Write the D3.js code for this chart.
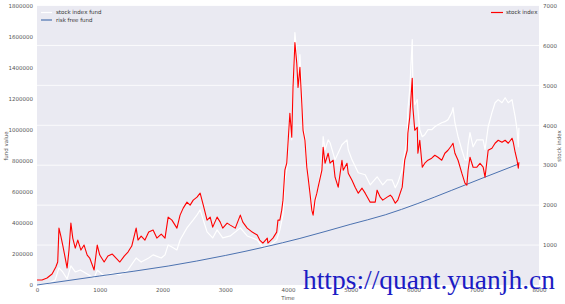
<!DOCTYPE html>
<html>
<head>
<meta charset="utf-8">
<script src="https://cdn.jsdelivr.net/npm/d3@7"></script>
<style>
  body { margin: 0; background: #fff; }
  svg { display: block; }
  text { font-family: "DejaVu Sans", sans-serif; }
</style>
</head>
<body>
<div id="chart"></div>
<script>
// stock index (right axis)
var indexTime = [0, 80, 160, 240, 300, 330, 350, 380, 410, 450, 480, 510, 540, 570, 610, 650, 700, 750, 800, 840,
  910, 960, 1000, 1070, 1130, 1200, 1260, 1320, 1390, 1450, 1510, 1580, 1610, 1660, 1720, 1780, 1850, 1910, 1980, 2040,
  2090, 2150, 2230, 2280, 2330, 2390, 2440, 2490, 2550, 2600, 2650, 2710, 2760, 2800, 2870, 2920, 2960, 3030, 3080, 3160,
  3240, 3280, 3350, 3430, 3510, 3550, 3600, 3670, 3680, 3760, 3820, 3840, 3870, 3900, 3920, 3950, 3980, 4030, 4060, 4080,
  4110, 4140, 4160, 4190, 4220, 4240, 4270, 4300, 4320, 4350, 4380, 4400, 4430, 4460, 4480, 4540, 4560, 4590, 4640, 4670,
  4720, 4750, 4800, 4860, 4880, 4940, 4960, 5020, 5070, 5120, 5180, 5230, 5310, 5390, 5420, 5470, 5510, 5580, 5630, 5660,
  5710, 5750, 5820, 5860, 5900, 5910, 5940, 5980, 5990, 6020, 6060, 6070, 6100, 6140, 6180, 6230, 6290, 6340, 6390, 6450,
  6500, 6550, 6610, 6630, 6660, 6710, 6770, 6820, 6850, 6870, 6900, 6950, 7010, 7060, 7110, 7140, 7190, 7250, 7300, 7350,
  7410, 7460, 7510, 7570, 7590, 7620, 7650, 7670, 7680];
var indexValue = [125, 125, 175, 275, 450, 575, 1425, 1225, 1000, 675, 425, 875, 1550, 1175, 925, 1125, 875, 1000, 750, 675,
  375, 1000, 750, 575, 725, 775, 675, 575, 725, 825, 975, 1425, 1125, 1225, 1125, 1325, 1375, 1175, 1275, 1175,
  1700, 1625, 1425, 1750, 1925, 2075, 2000, 2125, 2200, 2300, 2000, 1625, 1700, 1450, 1700, 1575, 1425, 1550, 1500, 1425,
  1750, 1575, 1425, 1325, 1250, 1125, 1050, 1175, 1050, 1175, 1325, 1625, 1625, 1875, 2125, 2875, 3050, 4300, 3700, 4950,
  6075, 5550, 4950, 5450, 4550, 3875, 3625, 2950, 2700, 2300, 1875, 1750, 2125, 2300, 2450, 2875, 3450, 3050, 3300, 3050,
  3125, 2700, 2450, 3125, 2875, 3050, 2800, 2625, 2450, 2300, 2425, 2300, 2075, 2075, 2375, 2200, 2125, 2200, 2250, 2200,
  2050, 2125, 2450, 3125, 3375, 3800, 4200, 5175, 4450, 3875, 3950, 3300, 3625, 2950, 3050, 3125, 3175, 3250, 3200, 3125,
  3300, 3375, 3500, 3550, 3300, 3125, 2800, 2550, 2500, 2875, 3200, 2950, 2950, 3050, 2950, 2700, 3375, 3425, 3550, 3625,
  3575, 3625, 3550, 3675, 3575, 3325, 3125, 2925, 3075];

// stock index fund (left axis)
var fundTime = [0, 160, 290, 350, 410, 480, 540, 610, 690, 800, 910, 960, 1070, 1200, 1320, 1450, 1580, 1660, 1780, 1850,
  1980, 2040, 2090, 2150, 2230, 2280, 2390, 2490, 2550, 2600, 2650, 2710, 2800, 2870, 2960, 3080, 3240, 3350, 3510, 3600,
  3680, 3820, 3870, 3920, 3950, 3980, 4030, 4060, 4080, 4110, 4140, 4160, 4190, 4220, 4240, 4270, 4300, 4350, 4400, 4460,
  4540, 4560, 4590, 4640, 4670, 4750, 4860, 4940, 4960, 5020, 5120, 5230, 5310, 5420, 5510, 5580, 5660, 5710, 5750, 5820,
  5860, 5900, 5910, 5940, 5980, 5990, 6020, 6060, 6070, 6100, 6140, 6180, 6230, 6290, 6340, 6390, 6450, 6500, 6550, 6610,
  6630, 6660, 6710, 6770, 6820, 6850, 6870, 6900, 6950, 7010, 7060, 7110, 7140, 7190, 7250, 7300, 7350, 7410, 7460, 7510,
  7570, 7590, 7620, 7650, 7670, 7680];
var fundValue = [0, 6000, 32000, 110000, 84000, 39000, 123000, 84000, 97000, 71000, 45000, 97000, 58000, 77000, 65000, 97000, 174000, 148000, 174000, 194000,
  174000, 194000, 258000, 245000, 226000, 290000, 368000, 419000, 452000, 484000, 419000, 342000, 303000, 355000, 303000, 316000, 368000, 316000, 290000, 239000,
  245000, 290000, 355000, 452000, 677000, 742000, 1097000, 935000, 1290000, 1626000, 1484000, 1290000, 1484000, 1226000, 1032000, 955000, 774000, 613000, 452000, 581000,
  774000, 955000, 871000, 935000, 916000, 806000, 903000, 935000, 871000, 806000, 723000, 710000, 645000, 697000, 645000, 677000, 677000, 626000, 658000, 742000,
  852000, 935000, 1129000, 1258000, 1581000, 1277000, 1161000, 1194000, 1129000, 1000000, 955000, 968000, 1000000, 1000000, 1019000, 1032000, 1045000, 1052000, 1065000, 1110000,
  1142000, 1045000, 955000, 871000, 806000, 806000, 903000, 981000, 890000, 935000, 935000, 935000, 871000, 1019000, 1110000, 1174000, 1194000, 1174000, 1206000, 1174000,
  1194000, 1148000, 1084000, 1000000, 890000, 1013000];

// risk free fund (left axis)
var riskTime = [0, 1000, 2090, 3000, 3630, 4190, 4990, 5550, 6070, 6610, 7140, 7680];
var riskValue = [0, 58000, 122000, 190000, 245000, 300000, 390000, 452000, 525000, 610000, 695000, 780000];

var leftTicks = [0, 200000, 400000, 600000, 800000, 1000000, 1200000, 1400000, 1600000, 1800000];
var rightTicks = [1000, 2000, 3000, 4000, 5000, 6000, 7000];
var xTicks = [0, 1000, 2000, 3000, 4000, 5000, 6000, 7000, 8000];

var width = 565, height = 304;
var margin = {top: 5.5, right: 26, bottom: 19, left: 37};

var svg = d3.select('#chart').append('svg')
    .attr('width', width)
    .attr('height', height);

var x = d3.scaleLinear().domain([0, 8000]).range([margin.left, width - margin.right]);
var yLeft = d3.scaleLinear().domain([0, 1800000]).range([height - margin.bottom, margin.top]);
var yRight = d3.scaleLinear().domain([0, 7000]).range([height - margin.bottom, margin.top]);

// plot background
svg.append('rect')
    .attr('x', x(0))
    .attr('y', yLeft(1800000))
    .attr('width', x(8000) - x(0))
    .attr('height', yLeft(0) - yLeft(1800000))
    .attr('fill', '#eaeaf2');

// grid lines come from the right axis
svg.append('g')
    .selectAll('line')
    .data(rightTicks)
    .enter().append('line')
    .attr('x1', x(0))
    .attr('x2', x(8000))
    .attr('y1', function (d) { return yRight(d); })
    .attr('y2', function (d) { return yRight(d); })
    .attr('stroke', '#fff')
    .attr('stroke-width', 0.8);

// axes
var axisColor = '#555';
var fontSize = '5.5px';

var leftAxis = svg.append('g')
    .attr('transform', 'translate(' + x(0) + ',0)')
    .call(d3.axisLeft(yLeft).tickValues(leftTicks).tickFormat(d3.format('d')).tickSize(0).tickPadding(4));
var rightAxis = svg.append('g')
    .attr('transform', 'translate(' + x(8000) + ',0)')
    .call(d3.axisRight(yRight).tickValues(rightTicks).tickFormat(d3.format('d')).tickSize(0).tickPadding(4));
var bottomAxis = svg.append('g')
    .attr('transform', 'translate(0,' + yLeft(0) + ')')
    .call(d3.axisBottom(x).tickValues(xTicks).tickFormat(d3.format('d')).tickSize(0).tickPadding(3));

[leftAxis, rightAxis, bottomAxis].forEach(function (a) {
    a.select('.domain').remove();
    a.selectAll('text')
        .attr('fill', axisColor)
        .style('font-size', fontSize);
});

// axis titles
svg.append('text')
    .attr('transform', 'translate(6,146) rotate(-90)')
    .attr('text-anchor', 'middle')
    .attr('dy', '0.35em')
    .attr('fill', axisColor)
    .style('font-size', fontSize)
    .text('fund value');

svg.append('text')
    .attr('transform', 'translate(559,146) rotate(-90)')
    .attr('text-anchor', 'middle')
    .attr('dy', '0.35em')
    .attr('fill', axisColor)
    .style('font-size', fontSize)
    .text('stock index');

svg.append('text')
    .attr('x', 288)
    .attr('y', 300)
    .attr('text-anchor', 'middle')
    .attr('fill', axisColor)
    .style('font-size', fontSize)
    .text('Time');

// lines
var fundLine = d3.line()
    .x(function (d, i) { return x(fundTime[i]); })
    .y(function (d) { return yLeft(d); });
var riskLine = d3.line()
    .curve(d3.curveMonotoneX)
    .x(function (d, i) { return x(riskTime[i]); })
    .y(function (d) { return yLeft(d); });
var indexLine = d3.line()
    .x(function (d, i) { return x(indexTime[i]); })
    .y(function (d) { return yRight(d); });

svg.append('path')
    .datum(fundValue)
    .attr('d', fundLine)
    .attr('fill', 'none')
    .attr('stroke', '#ffffff')
    .attr('stroke-width', 1.2)
    .attr('stroke-linejoin', 'round');

svg.append('path')
    .datum(riskValue)
    .attr('d', riskLine)
    .attr('fill', 'none')
    .attr('stroke', '#4c72b0')
    .attr('stroke-width', 1);

svg.append('path')
    .datum(indexValue)
    .attr('d', indexLine)
    .attr('fill', 'none')
    .attr('stroke', '#ff0000')
    .attr('stroke-width', 1.1)
    .attr('stroke-linejoin', 'round');

// legends
var legendLeft = svg.append('g');
[['stock index fund', '#ffffff'], ['risk free fund', '#4c72b0']].forEach(function (item, i) {
    var ly = 12.5 + i * 7.5;
    legendLeft.append('line')
        .attr('x1', 41).attr('x2', 52)
        .attr('y1', ly).attr('y2', ly)
        .attr('stroke', item[1])
        .attr('stroke-width', 1.2);
    legendLeft.append('text')
        .attr('x', 56)
        .attr('y', ly)
        .attr('dy', '0.35em')
        .attr('fill', '#333')
        .style('font-size', fontSize)
        .text(item[0]);
});

svg.append('line')
    .attr('x1', 491).attr('x2', 503)
    .attr('y1', 12.5).attr('y2', 12.5)
    .attr('stroke', '#ff0000')
    .attr('stroke-width', 1.2);
svg.append('text')
    .attr('x', 506)
    .attr('y', 12.5)
    .attr('dy', '0.35em')
    .attr('fill', '#333')
    .style('font-size', fontSize)
    .text('stock index');

// watermark
svg.append('text')
    .attr('x', 555)
    .attr('y', 289)
    .attr('text-anchor', 'end')
    .attr('fill', '#1c1cc4')
    .style('font-family', '"Liberation Serif", "DejaVu Serif", serif')
    .style('font-size', '27.5px')
    .text('https://quant.yuanjh.cn');
</script>
</body>
</html>
